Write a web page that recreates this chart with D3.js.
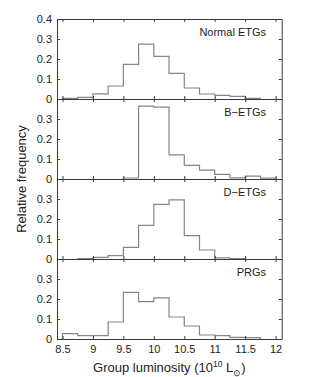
<!DOCTYPE html>
<html>
<head>
<meta charset="utf-8">
<script src="https://cdn.jsdelivr.net/npm/d3@7"></script>
<style>
  body { margin: 0; background: #fff; }
  svg { display: block; font-family: "Liberation Sans", Arial, Helvetica, sans-serif; }
  .axis path, .axis line { stroke: #3a3a3a; }
  .axis text { fill: #222; font-size: 11px; }
</style>
</head>
<body>
<svg width="314" height="377"></svg>
<script>
// bin left edges (bin width 0.25)
var binStarts = [8.5, 8.75, 9, 9.25, 9.5, 9.75, 10, 10.25, 10.5, 10.75, 11, 11.25, 11.5, 11.75];
var binWidth = 0.25;

// relative frequency for each group, one value per bin (null = no bar)
var normalETGs = [0.003, 0.008, 0.026, 0.065, 0.173, 0.274, 0.213, 0.128, 0.055, 0.025, 0.018, 0.013, 0.003, null];
var bETGs      = [null, null, null, null, 0.005, 0.364, 0.359, 0.121, 0.068, 0.044, 0.023, 0.006, 0.014, 0.004];
var dETGs      = [null, 0.002, 0.008, 0.017, 0.058, 0.168, 0.273, 0.296, 0.117, 0.045, 0.006, 0.002, null, null];
var prgs       = [0.027, 0.017, 0.017, 0.085, 0.233, 0.187, 0.206, 0.11, 0.065, 0.02, 0.017, 0.008, 0.007, null];

var panelNames = ["Normal ETGs", "B\u2212ETGs", "D\u2212ETGs", "PRGs"];
var panelSeries = [normalETGs, bETGs, dETGs, prgs];

var xTicks = [8.5, 9, 9.5, 10, 10.5, 11, 11.5, 12];
var yTicksTop = [0, 0.1, 0.2, 0.3, 0.4];
var yTicksOther = [0, 0.1, 0.2, 0.3];

(function () {

var plotLeft = 57, plotRight = 281.7, plotTop = 19, panelH = 80;

var svg = d3.select("svg");

var x = d3.scaleLinear().domain([8.41, 12.1]).range([plotLeft, plotRight]);

// turns bin values into a closed step outline
function stepPoints(values) {
	var pts = [];
	var first = values.findIndex(function (v) { return v !== null; });
	var last = values.length - 1;
	while (values[last] === null) last--;
	pts.push([binStarts[first], 0]);
	for (var i = first; i <= last; i++) {
		var v = values[i] || 0;
		pts.push([binStarts[i], v]);
		pts.push([binStarts[i] + binWidth, v]);
	}
	pts.push([binStarts[last] + binWidth, 0]);
	return pts;
}

panelSeries.forEach(function (values, p) {
	var y0 = plotTop + panelH * (p + 1), y1 = plotTop + panelH * p;
	var y = d3.scaleLinear().domain([0, 0.4]).range([y0, y1]);
	var g = svg.append("g");

	// histogram
	g.append("path")
		.datum(stepPoints(values))
		.attr("fill", "none")
		.attr("stroke", "#858585")
		.attr("stroke-width", 1.2)
		.attr("d", d3.line()
			.x(function (d) { return x(d[0]); })
			.y(function (d) { return y(d[1]); }));

	var yt = p === 0 ? yTicksTop : yTicksOther;

	g.append("g").attr("class", "axis")
		.attr("transform", "translate(" + plotLeft + ",0)")
		.call(d3.axisLeft(y).tickValues(yt).tickSizeInner(-3).tickSizeOuter(0).tickPadding(5)
			.tickFormat(d3.format("~g")));

	g.append("g").attr("class", "axis")
		.attr("transform", "translate(" + plotRight + ",0)")
		.call(d3.axisRight(y).tickValues(yt).tickSizeInner(-3).tickSizeOuter(0).tickFormat(""));

	g.append("g").attr("class", "axis")
		.attr("transform", "translate(0," + y1 + ")")
		.call(d3.axisTop(x).tickValues(xTicks).tickSizeInner(-3).tickSizeOuter(0).tickFormat(""));

	g.append("g").attr("class", "axis")
		.attr("transform", "translate(0," + y0 + ")")
		.call(d3.axisBottom(x).tickValues(xTicks).tickSizeInner(-3).tickSizeOuter(0).tickPadding(6)
			.tickFormat(p === 3 ? d3.format("~g") : ""));

	g.append("text")
		.attr("x", 266)
		.attr("y", y1 + 17)
		.attr("text-anchor", "end")
		.attr("font-size", 11)
		.attr("fill", "#222")
		.text(panelNames[p]);
});

// axis titles
svg.append("text")
	.attr("transform", "translate(26," + (plotTop + panelH * 2) + ") rotate(-90)")
	.attr("text-anchor", "middle")
	.attr("font-size", 13)
	.attr("fill", "#222")
	.text("Relative frequency");

var xl = svg.append("text")
	.attr("x", (plotLeft + plotRight) / 2)
	.attr("y", 372)
	.attr("text-anchor", "middle")
	.attr("font-size", 13)
	.attr("fill", "#222");
xl.append("tspan").text("Group luminosity (10");
xl.append("tspan").attr("dy", -5).attr("font-size", 8.5).text("10");
xl.append("tspan").attr("dy", 5).text(" L");
xl.append("tspan").attr("dy", 4).attr("font-size", 8.5).text("\u2299");
xl.append("tspan").attr("dy", -4).text(")");

})();
</script>
</body>
</html>
